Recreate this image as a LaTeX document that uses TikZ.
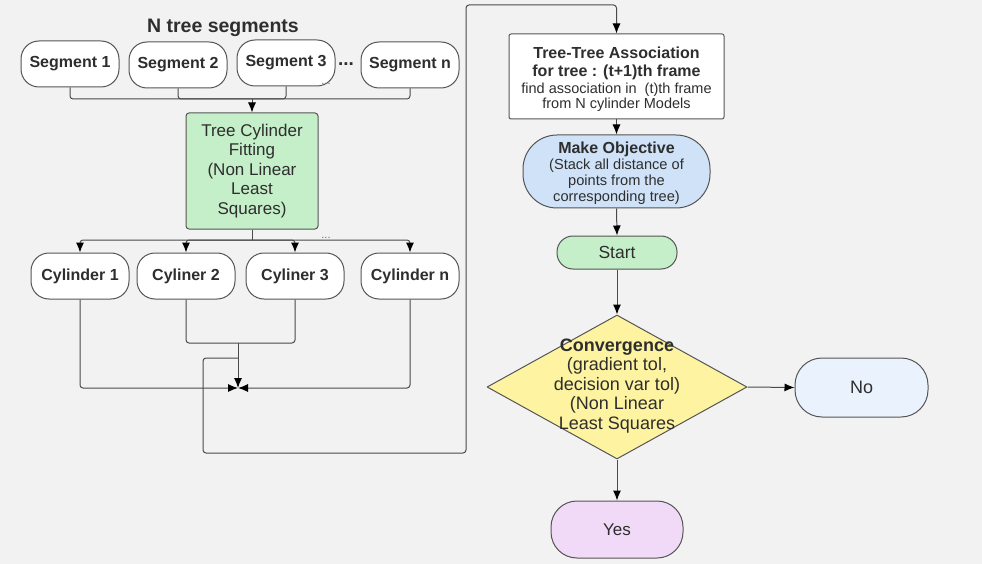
\documentclass[tikz,border=0pt]{standalone}
\usepackage{fontspec}
\setmainfont{Liberation Sans}
\usetikzlibrary{arrows.meta,shapes.geometric}
\definecolor{bg}{HTML}{F2F2F2}
\definecolor{linec}{HTML}{4A4A4A}
\definecolor{bordc}{HTML}{555555}
\definecolor{txt}{HTML}{2E2E2E}
\definecolor{greenf}{HTML}{C4EFC8}
\definecolor{bluef}{HTML}{CFE2F8}
\definecolor{yellowf}{HTML}{FDF3A0}
\definecolor{nof}{HTML}{EAF3FD}
\definecolor{yesf}{HTML}{F1DAF8}
\begin{document}
\begin{tikzpicture}[x=1pt,y=-1pt,line join=round,
  conn/.style={draw=linec,line width=1pt,rounded corners=3pt},
  arr/.style={conn,-{Latex[length=10pt,width=8pt,color=black]}},
  pill/.style={draw=bordc,line width=1pt,fill=white,rounded corners=18pt,
    minimum width=98pt,minimum height=46pt,inner sep=0pt,
    font=\fontsize{16}{19}\selectfont\bfseries,text=txt},
  boxbase/.style={draw=bordc,line width=1pt,inner sep=0pt,align=center,text=txt}
]
\fill[bg] (0,0) rectangle (982,564);
\useasboundingbox (0,0) rectangle (982,564);

% left column
\node[font=\fontsize{19.5}{22}\selectfont\bfseries,text=txt] (title) at (223,28) {N tree segments};
\node[pill] (s1) at (70,64) {Segment 1};
\node[pill] (s2) at (178,65) {Segment 2};
\node[pill] (s3) at (286,63) {Segment 3};
\node[pill] (sn) at (410,65) {Segment n};
\node[font=\fontsize{19}{21}\selectfont\bfseries,text=txt,inner sep=0pt] (dots1) at (346,64) {...};
\node[font=\fontsize{11}{13}\selectfont,text=txt!70,inner sep=0pt] (dots2) at (326,84) {...};

\node[boxbase,fill=greenf,rounded corners=3pt,minimum width=132pt,minimum height=116pt,
  font=\fontsize{17}{19.5}\selectfont] (fit) at (252,171)
  {Tree Cylinder\\Fitting\\(Non Linear\\Least\\Squares)};

\node[pill] (c1) at (80,276) {Cylinder 1};
\node[pill] (c2) at (186,276) {Cyliner 2};
\node[pill] (c3) at (295,276) {Cyliner 3};
\node[pill] (cn) at (410,276) {Cylinder n};
\node[font=\fontsize{11}{13}\selectfont,text=txt!70,inner sep=0pt] (dots3) at (326,238) {...};

\coordinate (b1) at (252,99);
\draw[conn] (s1.south) |- (b1);
\draw[conn] (s2.south) |- (b1);
\draw[conn] (s3.south) |- (b1);
\draw[conn] (sn.south) |- (b1);
\draw[arr] (b1) -- (fit.north);

\coordinate (b2) at (252,240);
\draw[conn] (fit.south) -- (b2);
\draw[arr] (b2) -| (c1.north);
\draw[arr] (b2) -| (c2.north);
\draw[arr] (b2) -| (c3.north);
\draw[arr] (b2) -| (cn.north);

\coordinate (j) at (238,343);
\coordinate (m) at (238,388);
\coordinate (lp) at (238,358);
\draw[conn] (c2.south) |- (j);
\draw[conn] (c3.south) |- (j);
\draw[arr] (j) -- (m);
\draw[arr] (c1.south) |- (m);
\draw[arr] (cn.south) |- (m);

% right column
\node[boxbase,fill=white,rounded corners=2pt,minimum width=215pt,minimum height=85pt,
  font=\fontsize{16}{18}\selectfont] (tt) at (616.5,76.5) {};
\node[align=center,text=txt,inner sep=0pt,font=\fontsize{16}{18}\selectfont] (ttt) at (616.5,79)
  {\bfseries Tree-Tree Association\\
   \bfseries for tree : (t+1)th frame\\[-1pt]
   \fontsize{14.5}{15.5}\selectfont\mdseries find association in\ \ (t)th frame\\[-3pt]
   \fontsize{14.5}{15.5}\selectfont\mdseries from N cylinder Models};

\node[boxbase,fill=bluef,rounded corners=34pt,minimum width=187pt,minimum height=73pt] (mo) at (616.5,171.5) {};
\node[align=center,text=txt,inner sep=0pt,font=\fontsize{14.6}{15.8}\selectfont] (mot) at (616.5,173)
  {\fontsize{16}{17}\selectfont\bfseries Make Objective\\[1pt]
   (Stack all distance of\\
   points from the\\
   corresponding tree)};

\node[boxbase,fill=greenf,rounded corners=16pt,minimum width=120pt,minimum height=33pt,
  font=\fontsize{17.5}{20}\selectfont] (start) at (617,252.5) {Start};

\node[draw=bordc,line width=1pt,fill=yellowf,diamond,minimum width=260pt,minimum height=144pt,inner sep=0pt] (conv) at (617,387) {};
\node[align=center,text=txt,inner sep=0pt,font=\fontsize{18}{19.5}\selectfont] (convt) at (617,386)
  {\bfseries Convergence\\
   (gradient tol,\\
   decision var tol)\\
   (Non Linear\\
   Least Squares};

\node[boxbase,fill=nof,rounded corners=27pt,minimum width=133pt,minimum height=59pt,
  font=\fontsize{18}{20}\selectfont] (no) at (861.5,387.5) {No};
\node[boxbase,fill=yesf,rounded corners=26pt,minimum width=132pt,minimum height=57pt,
  font=\fontsize{17}{20}\selectfont] (yes) at (617,529.5) {Yes};

\draw[arr] (lp) -| (203,453) -| (466,5) -| (tt.north);
\draw[arr] (tt.south) -- (mo.north);
\draw[arr] (mo.south) -- (start.north);
\draw[arr] (start.south) -- (conv.north);
\draw[arr] (conv.east) -- (no.west);
\draw[arr] (conv.south) -- (yes.north);
\end{tikzpicture}
\end{document}
